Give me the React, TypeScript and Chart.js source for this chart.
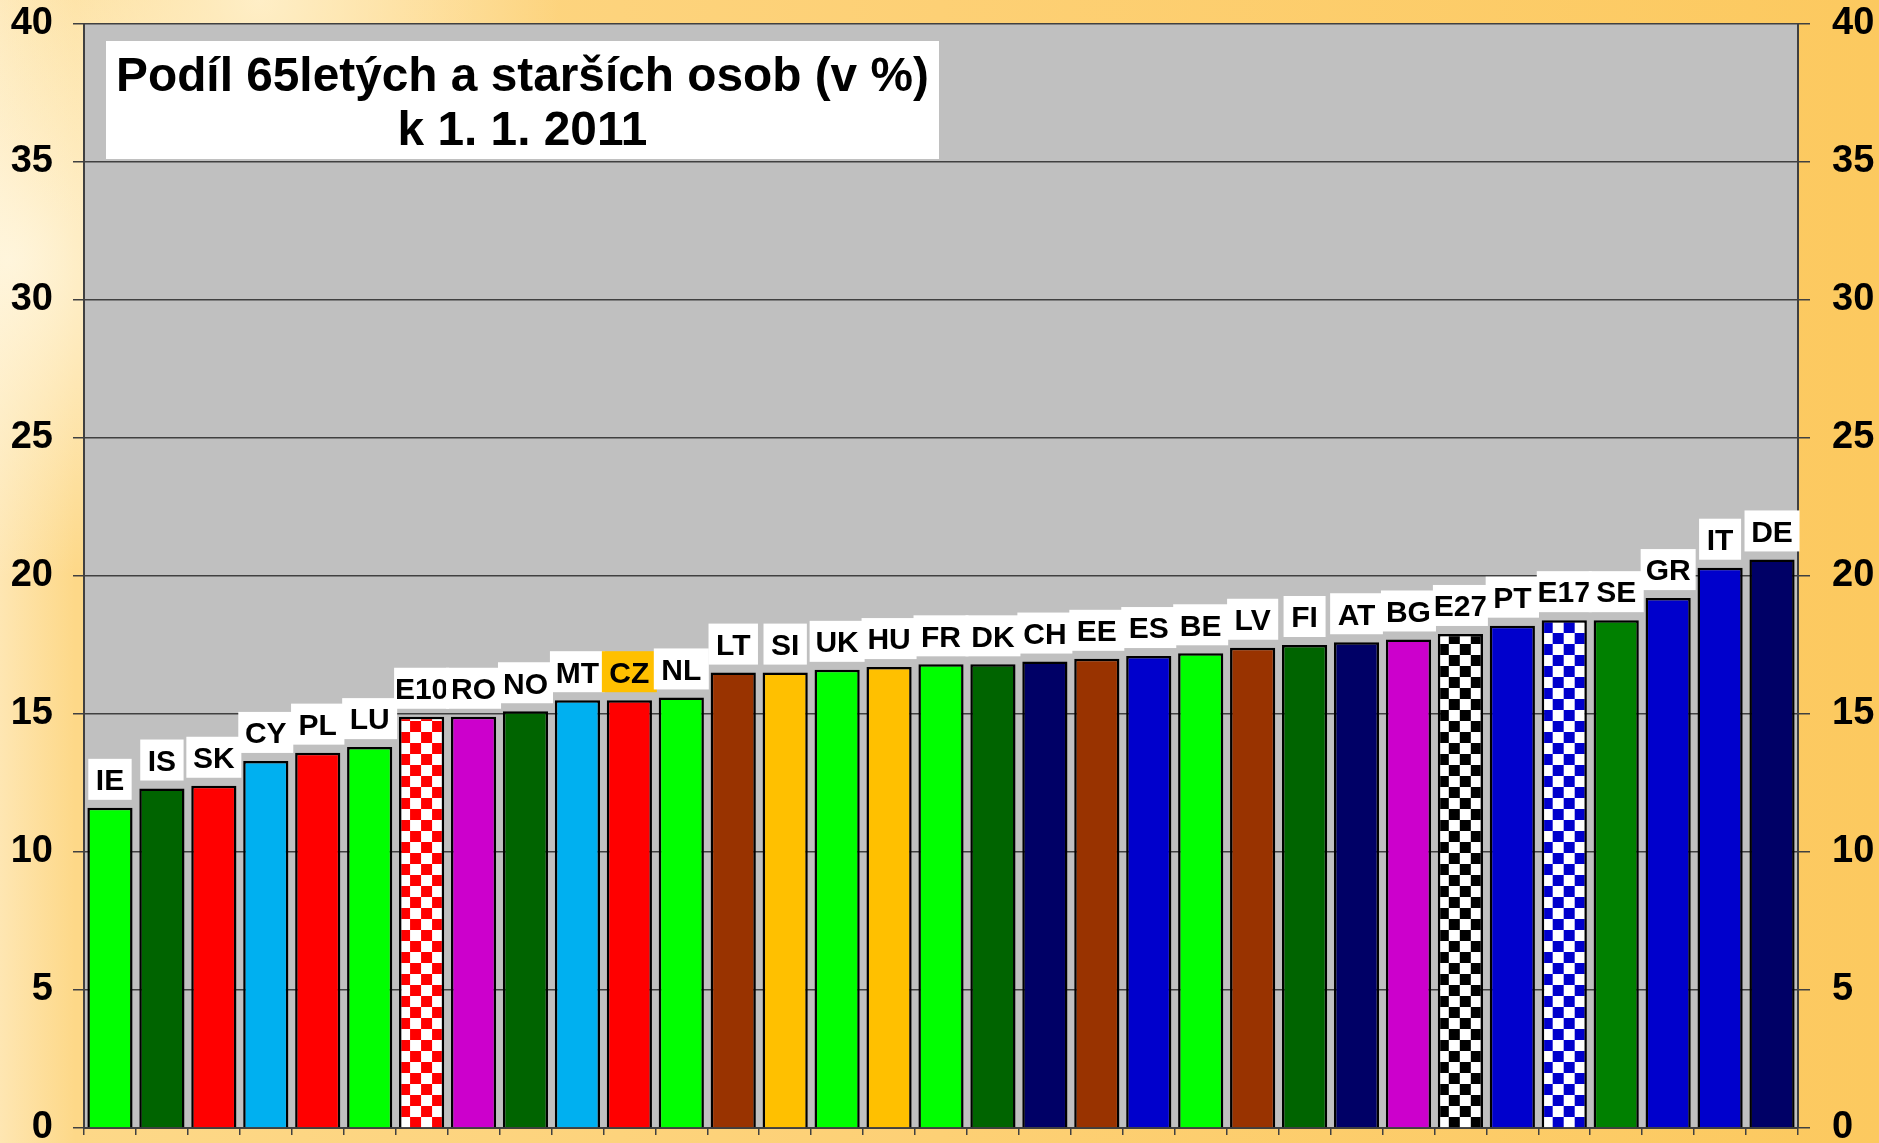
import { useEffect, useRef } from "react";
import { Chart, registerables } from "chart.js";

Chart.register(...registerables);

const countries = [
  "IE", "IS", "SK", "CY", "PL", "LU", "E10", "RO", "NO", "MT", "CZ", "NL",
  "LT", "SI", "UK", "HU", "FR", "DK", "CH", "EE", "ES", "BE", "LV", "FI",
  "AT", "BG", "E27", "PT", "E17", "SE", "GR", "IT", "DE",
];

const shareOver65 = [
  11.6, 12.3, 12.4, 13.3, 13.6, 13.8, 14.9, 14.9, 15.1, 15.5, 15.5, 15.6,
  16.5, 16.5, 16.6, 16.7, 16.8, 16.8, 16.9, 17.0, 17.1, 17.2, 17.4, 17.5,
  17.6, 17.7, 17.9, 18.2, 18.4, 18.4, 19.2, 20.3, 20.6,
];

// plain colour, or "checker:<colour>" for a chequered fill
const barFills = [
  "#00FF00", "#006400", "#FF0000", "#00B0F0", "#FF0000", "#00FF00", "checker:#FF0000", "#CC00CC",
  "#006400", "#00B0F0", "#FF0000", "#00FF00", "#993300", "#FFC000", "#00FF00", "#FFC000",
  "#00FF00", "#006400", "#000066", "#993300", "#0000CC", "#00FF00", "#993300", "#006400",
  "#000066", "#CC00CC", "checker:#000000", "#0000CC", "checker:#0000CC", "#008000", "#0000CC",
  "#0000CC", "#000066",
];

const highlighted = ["CZ"];
const yMin = 0;
const yMax = 40;
const yStep = 5;
const titleLines = ["Podíl 65letých a starších osob (v %)", "k 1. 1. 2011"];

const FONT = "'Liberation Sans', Arial, sans-serif";
const SQ = 11;

function makeChecker(color: string): CanvasPattern {
  const c = document.createElement("canvas");
  c.width = SQ * 2;
  c.height = SQ * 2;
  const g = c.getContext("2d")!;
  g.fillStyle = "#FFFFFF";
  g.fillRect(0, 0, SQ * 2, SQ * 2);
  g.fillStyle = color;
  g.fillRect(0, 0, SQ, SQ);
  g.fillRect(SQ, SQ, SQ, SQ);
  const ctx = document.createElement("canvas").getContext("2d")!;
  return ctx.createPattern(c, "repeat")!;
}

export default function App() {
  const ref = useRef<HTMLCanvasElement>(null);

  useEffect(() => {
    document.body.style.margin = "0";
    const canvas = ref.current!;
    const fills: (string | CanvasPattern)[] = barFills.map((f) =>
      f.startsWith("checker:") ? makeChecker(f.slice(8)) : f
    );

    const bgPlugin = {
      id: "bg",
      beforeDraw(chart: any) {
        const { ctx, width, height, chartArea } = chart;
        ctx.save();
        const lg = ctx.createLinearGradient(0, 0, width, 0);
        lg.addColorStop(0, "#FEE6B2");
        lg.addColorStop(0.04, "#FDD888");
        lg.addColorStop(0.5, "#FDD075");
        lg.addColorStop(1, "#FCC95F");
        ctx.fillStyle = lg;
        ctx.fillRect(0, 0, width, height);
        const rg = ctx.createRadialGradient(10, 260, 0, 10, 260, 320);
        rg.addColorStop(0, "rgba(255,248,228,0.85)");
        rg.addColorStop(1, "rgba(255,248,228,0)");
        ctx.fillStyle = rg;
        ctx.fillRect(0, 0, width, height);
        const rg2 = ctx.createRadialGradient(260, 0, 0, 260, 0, 300);
        rg2.addColorStop(0, "rgba(255,244,215,0.8)");
        rg2.addColorStop(1, "rgba(255,244,215,0)");
        ctx.fillStyle = rg2;
        ctx.fillRect(0, 0, width, height);
        ctx.fillStyle = "#C0C0C0";
        ctx.fillRect(chartArea.left, chartArea.top, chartArea.right - chartArea.left, chartArea.bottom - chartArea.top);
        ctx.restore();
      },
      beforeDatasetsDraw(chart: any) {
        const meta = chart.getDatasetMeta(0);
        meta.data.forEach((bar: any, i: number) => {
          const f = fills[i];
          if (typeof f !== "string" && (f as any).setTransform) {
            const left = bar.x - bar.width / 2;
            (f as any).setTransform(new DOMMatrix().translate(left, chart.chartArea.bottom));
          }
        });
      },
    };

    const labelPlugin = {
      id: "barLabels",
      afterDatasetsDraw(chart: any) {
        const { ctx } = chart;
        const meta = chart.getDatasetMeta(0);
        ctx.save();
        ctx.font = `bold 30px ${FONT}`;
        ctx.textAlign = "center";
        ctx.textBaseline = "alphabetic";
        meta.data.forEach((bar: any, i: number) => {
          const label = countries[i];
          const tw = ctx.measureText(label).width;
          const bw = Math.min(Math.max(tw + 15, 42), 55);
          const bh = 41;
          const top = bar.y - 8 - bh;
          ctx.fillStyle = highlighted.includes(label) ? "#FFC000" : "#FFFFFF";
          ctx.fillRect(bar.x - bw / 2, top, bw, bh);
          ctx.fillStyle = "#000000";
          ctx.fillText(label, bar.x, top + bh / 2 + 10.8);
        });
        ctx.restore();
      },
      afterDraw(chart: any) {
        const { ctx, chartArea } = chart;
        const x0 = chartArea.left + 22;
        const y0 = chartArea.top + 17;
        const w = 833;
        const h = 118;
        ctx.save();
        ctx.fillStyle = "#FFFFFF";
        ctx.fillRect(x0, y0, w, h);
        ctx.fillStyle = "#000000";
        ctx.font = `bold 47.8px ${FONT}`;
        ctx.textAlign = "center";
        ctx.textBaseline = "alphabetic";
        ctx.fillText(titleLines[0], x0 + w / 2, y0 + 50);
        ctx.fillText(titleLines[1], x0 + w / 2, y0 + 104);
        ctx.restore();
      },
    };

    const tickFont = { family: FONT, weight: "bold" as const, size: 38 };

    const zeroPad = (s: any) => {
      s.paddingTop = 0;
      s.paddingBottom = 0;
      s.paddingLeft = 0;
      s.paddingRight = 0;
    };

    const chart = new Chart(canvas, {
      type: "bar",
      data: {
        labels: countries,
        datasets: [
          {
            data: shareOver65,
            backgroundColor: fills as any,
            borderColor: "#000000",
            borderWidth: 2.5,
            barPercentage: 0.87,
            categoryPercentage: 1,
          },
        ],
      },
      options: {
        responsive: false,
        animation: false,
        devicePixelRatio: 1,
        layout: { padding: { top: 24, left: 0, right: 0, bottom: 0 } },
        plugins: { legend: { display: false }, tooltip: { enabled: false }, title: { display: false } },
        scales: {
          x: {
            offset: true,
            grid: {
              offset: true,
              drawOnChartArea: false,
              drawTicks: true,
              tickLength: 7,
              color: "#404040",
              lineWidth: 1.5,
            },
            border: { color: "#404040", width: 2 },
            ticks: { display: false },
            afterFit: (s: any) => {
              s.height = 15;
              zeroPad(s);
            },
          } as any,
          y: {
            position: "left",
            min: yMin,
            max: yMax,
            ticks: { stepSize: yStep, color: "#000000", font: tickFont, padding: 20 },
            grid: { color: "#404040", lineWidth: 1.5, tickLength: 11 },
            border: { color: "#404040", width: 2 },
            afterFit: (s: any) => {
              s.width = 84;
              zeroPad(s);
            },
          } as any,
          y2: {
            position: "right",
            min: yMin,
            max: yMax,
            ticks: { stepSize: yStep, color: "#000000", font: tickFont, padding: 22 },
            grid: { drawOnChartArea: false, color: "#404040", lineWidth: 1.5, tickLength: 12 },
            border: { color: "#404040", width: 2 },
            afterFit: (s: any) => {
              s.width = 81;
              zeroPad(s);
            },
          } as any,
        },
      },
      plugins: [bgPlugin, labelPlugin],
    });

    return () => chart.destroy();
  }, []);

  return <canvas ref={ref} width={1879} height={1143} style={{ display: "block", width: 1879, height: 1143 }} />;
}
